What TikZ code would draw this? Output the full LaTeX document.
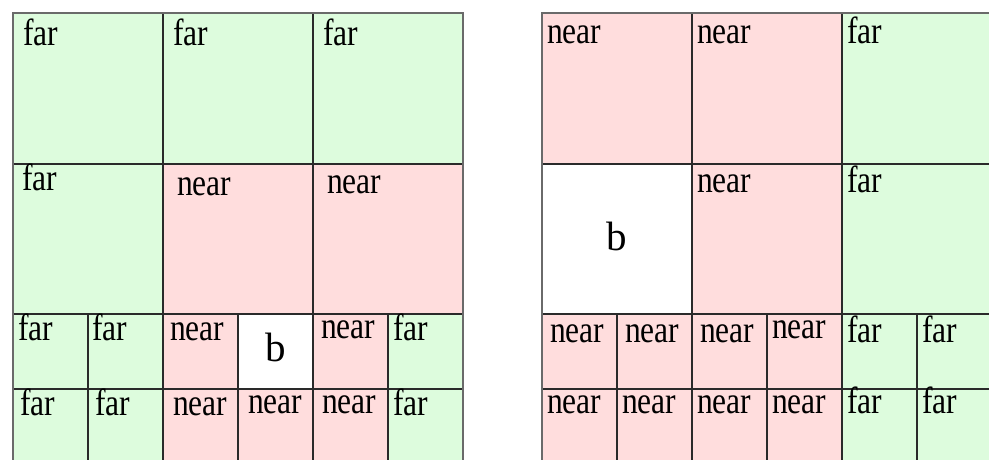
\documentclass[tikz,border=0pt]{standalone}
\usepackage{fontspec}
\usepackage{graphicx}
\setmainfont{Liberation Serif}
\definecolor{farc}{HTML}{DDFCDD}
\definecolor{nearc}{HTML}{FFDDDD}
\definecolor{innerline}{HTML}{2A2A2A}
\definecolor{outerline}{HTML}{6A6A6A}
\newcommand{\tallt}[1]{\scalebox{1}[1.2]{#1}}
\tikzset{
  cellbox/.style={draw=innerline, line width=1.6pt},
  outerbox/.style={draw=outerline, line width=2pt},
  lbl/.style={anchor=base west, inner sep=0pt, font=\fontsize{31.5}{36}\selectfont},
  blbl/.style={anchor=base, inner sep=0pt, font=\fontsize{41}{46}\selectfont},
}
\begin{document}
\begin{tikzpicture}[x=1pt,y=-1pt]
\useasboundingbox (0,0) rectangle (989,460);
\clip (0,0) rectangle (989,460);
\fill[white] (0,0) rectangle (989,460);
\foreach \xa/\ya/\xb/\yb/\c in {
  13/13/163/164/farc, 163/13/313/164/farc, 313/13/463/164/farc,
  13/164/163/314/farc, 163/164/313/314/nearc, 313/164/463/314/nearc,
  13/314/88/389/farc, 88/314/163/389/farc, 163/314/238/389/nearc, 238/314/313/389/white, 313/314/388/389/nearc, 388/314/463/389/farc,
  13/389/88/470/farc, 88/389/163/470/farc, 163/389/238/470/nearc, 238/389/313/470/nearc, 313/389/388/470/nearc, 388/389/463/470/farc,
  542/13/692/164/nearc, 692/13/842/164/nearc, 842/13/992/164/farc,
  542/164/692/314/white, 692/164/842/314/nearc, 842/164/992/314/farc,
  542/314/617/389/nearc, 617/314/692/389/nearc, 692/314/767/389/nearc, 767/314/842/389/nearc, 842/314/917/389/farc, 917/314/992/389/farc,
  542/389/617/470/nearc, 617/389/692/470/nearc, 692/389/767/470/nearc, 767/389/842/470/nearc, 842/389/917/470/farc, 917/389/992/470/farc}
  {\path[cellbox, fill=\c] (\xa,\ya) rectangle (\xb,\yb);}
\path[outerbox] (13,470) -- (13,13) -- (463,13) -- (463,470);
\path[outerbox] (542,470) -- (542,13) -- (995,13);
% ---------- left grid labels ----------
\node[lbl] (l1) at (23,46) {\tallt{far}};
\node[lbl] (l2) at (173,46) {\tallt{far}};
\node[lbl] (l3) at (323,46) {\tallt{far}};
\node[lbl] (l4) at (22,190) {\tallt{far}};
\node[lbl] (l5) at (177,195) {\tallt{near}};
\node[lbl] (l6) at (327,193) {\tallt{near}};
\node[lbl] (l7) at (18,340) {\tallt{far}};
\node[lbl] (l8) at (92,340) {\tallt{far}};
\node[lbl] (l9) at (170,340) {\tallt{near}};
\node[blbl] (lb) at (275.5,361) {b};
\node[lbl] (l10) at (321,338) {\tallt{near}};
\node[lbl] (l11) at (393,340) {\tallt{far}};
\node[lbl] (l12) at (20,415) {\tallt{far}};
\node[lbl] (l13) at (95,415) {\tallt{far}};
\node[lbl] (l14) at (173,415) {\tallt{near}};
\node[lbl] (l15) at (248,413) {\tallt{near}};
\node[lbl] (l16) at (322,413) {\tallt{near}};
\node[lbl] (l17) at (393,415) {\tallt{far}};
% ---------- right grid labels ----------
\node[lbl] (r1) at (547,44) {\tallt{near}};
\node[lbl] (r2) at (697,44) {\tallt{near}};
\node[lbl] (r3) at (847,44) {\tallt{far}};
\node[blbl] (rb) at (617,250) {b};
\node[lbl] (r4) at (697,192) {\tallt{near}};
\node[lbl] (r5) at (847,192) {\tallt{far}};
\node[lbl] (r6) at (550,342) {\tallt{near}};
\node[lbl] (r7) at (625,342) {\tallt{near}};
\node[lbl] (r8) at (700,342) {\tallt{near}};
\node[lbl] (r9) at (772,338) {\tallt{near}};
\node[lbl] (r10) at (847,342) {\tallt{far}};
\node[lbl] (r11) at (922,342) {\tallt{far}};
\node[lbl] (r12) at (547,413) {\tallt{near}};
\node[lbl] (r13) at (622,413) {\tallt{near}};
\node[lbl] (r14) at (697,413) {\tallt{near}};
\node[lbl] (r15) at (772,413) {\tallt{near}};
\node[lbl] (r16) at (847,413) {\tallt{far}};
\node[lbl] (r17) at (922,413) {\tallt{far}};
\end{tikzpicture}
\end{document}
